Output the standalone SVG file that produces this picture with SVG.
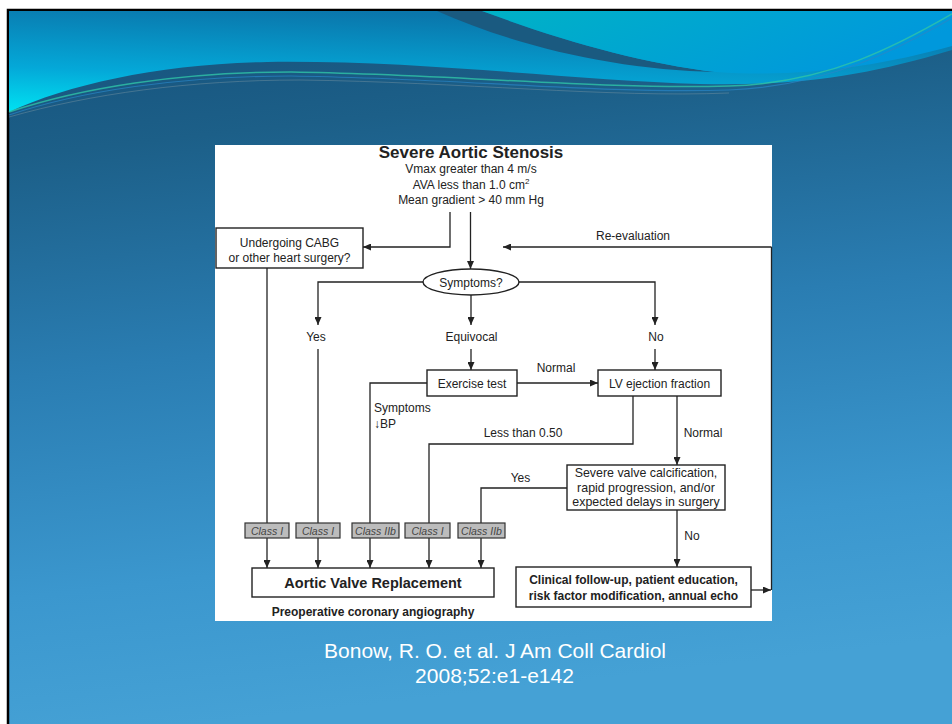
<svg xmlns="http://www.w3.org/2000/svg" width="952" height="724" viewBox="0 0 952 724">
<defs>
<linearGradient id="bg" x1="0" y1="0" x2="0.15" y2="1">
<stop offset="0" stop-color="#15507a"/>
<stop offset="0.2" stop-color="#1c5f88"/>
<stop offset="0.5" stop-color="#2a7db2"/>
<stop offset="0.8" stop-color="#3b97ce"/>
<stop offset="1" stop-color="#45a1d5"/>
</linearGradient>
<linearGradient id="tl" x1="0.35" y1="0" x2="0" y2="1">
<stop offset="0" stop-color="#0a76ab"/>
<stop offset="0.6" stop-color="#04a8d8"/>
<stop offset="1" stop-color="#00e2f2"/>
</linearGradient>
<linearGradient id="tr" x1="0" y1="0" x2="1" y2="0.3">
<stop offset="0" stop-color="#00b2c6"/>
<stop offset="1" stop-color="#0098dc"/>
</linearGradient>
<marker id="ah" markerUnits="userSpaceOnUse" markerWidth="8" markerHeight="7" refX="8" refY="3.5" orient="auto">
<path d="M0,0 L8,3.5 L0,7 Z" fill="#222"/>
</marker>
<style>
.ln{stroke:#222;stroke-width:1.3;fill:none}
.ar{marker-end:url(#ah)}
.bx{fill:#fff;stroke:#222;stroke-width:1.4}
text{font-family:"Liberation Sans",Arial,Helvetica,sans-serif}
.t{font-size:12px;fill:#222;text-anchor:middle}
.b{font-weight:bold}
.cls rect{fill:#bcbcbc;stroke:#333;stroke-width:1.2}
.cls text{font-size:10.5px;font-style:italic;fill:#444;text-anchor:middle}
.ft{font-size:21px;fill:#fff;text-anchor:middle}
</style>
</defs>

<!-- slide background -->
<rect x="0" y="0" width="952" height="724" fill="#fff"/>
<rect x="8" y="10" width="950" height="720" fill="url(#bg)" stroke="#000" stroke-width="2.5"/>
<g id="banner">
<path d="M9,11 H952 V50 C 860,78 790,86 700,84 C 570,80 420,60 267,62 C 160,64 70,84 9,112 Z" fill="url(#tl)"/>
<path d="M437,11 L482,11 C 560,40 640,63 716,72 C 620,70 520,48 437,11 Z" fill="#1a5a80"/>
<path d="M482,11 C 560,40 640,63 716,72 C 800,78 880,66 952,46 V11 Z" fill="url(#tr)"/>
<path d="M9,112 C 80,88 180,72 291,72 C 450,74 600,90 729,86 C 830,83 900,44 952,14" fill="none" stroke="#30c4a8" stroke-width="1.5" opacity="0.8"/>
<path d="M9,115 C 80,91 180,76 291,76 C 450,78 600,94 729,90 C 830,86 900,48 952,18" fill="none" stroke="#2a86c8" stroke-width="1.2" opacity="0.7"/>
<path d="M9,117 C 90,94 190,80 300,80 C 460,82 610,98 729,93" fill="none" stroke="#7090a0" stroke-width="1" opacity="0.5"/>
</g>

<!-- figure area -->
<rect x="215" y="145" width="557" height="476" fill="#fff"/>

<g id="connectors">
<path class="ln" d="M771.5,247 V590"/>
<path class="ln ar" d="M771.5,247 H503"/>
<path class="ln ar" d="M450,212 V247 H363"/>
<path class="ln ar" d="M470.5,212 V269"/>
<path class="ln ar" d="M423,282 H318 V325"/>
<path class="ln ar" d="M471,295 V325"/>
<path class="ln ar" d="M519,282 H655 V325"/>
<path class="ln ar" d="M267,268 V568"/>
<path class="ln ar" d="M318,349 V568"/>
<path class="ln ar" d="M471,349 V370"/>
<path class="ln ar" d="M655,349 V370"/>
<path class="ln ar" d="M517,383 H598"/>
<path class="ln ar" d="M427,383 H370 V568"/>
<path class="ln ar" d="M633,396 V444 H429 V568"/>
<path class="ln ar" d="M677,396 V465"/>
<path class="ln ar" d="M567,488 H481 V568"/>
<path class="ln ar" d="M677,510 V567"/>
<path class="ln ar" d="M751,590 H771"/>
</g>

<g id="title">
<text class="t b" x="471" y="158" style="font-size:17px">Severe Aortic Stenosis</text>
<text class="t" x="471" y="173">Vmax greater than 4 m/s</text>
<text class="t" x="471" y="189">AVA less than 1.0 cm<tspan dy="-5" font-size="8">2</tspan></text>
<text class="t" x="471" y="204">Mean gradient &gt; 40 mm Hg</text>
</g>

<g id="cabg">
<rect class="bx" x="216" y="228" width="147" height="40"/>
<text class="t" x="289.5" y="247">Undergoing CABG</text>
<text class="t" x="289.5" y="262">or other heart surgery?</text>
</g>

<g id="reeval"><text class="t" x="633" y="240">Re-evaluation</text></g>

<g id="symptoms">
<ellipse cx="471" cy="282" rx="48" ry="13" fill="#fff" stroke="#222" stroke-width="1.4"/>
<text class="t" x="471" y="286.5">Symptoms?</text>
</g>

<g id="labels">
<text class="t" x="316" y="341">Yes</text>
<text class="t" x="471.5" y="341">Equivocal</text>
<text class="t" x="656" y="341">No</text>
<text class="t" x="556" y="372">Normal</text>
<text class="t" x="374" y="412" style="text-anchor:start">Symptoms</text>
<text class="t" x="374" y="428" style="text-anchor:start">↓BP</text>
<text class="t" x="523" y="437">Less than 0.50</text>
<text class="t" x="703" y="437">Normal</text>
<text class="t" x="520.5" y="482">Yes</text>
<text class="t" x="692" y="540">No</text>
</g>

<g id="exercise">
<rect class="bx" x="427" y="370" width="90" height="26"/>
<text class="t" x="472" y="387.5">Exercise test</text>
</g>

<g id="lvef">
<rect class="bx" x="598" y="370" width="123" height="26"/>
<text class="t" x="659.5" y="387.5">LV ejection fraction</text>
</g>

<g id="severe">
<rect class="bx" x="567" y="465" width="158" height="45"/>
<text class="t" x="646" y="477" style="font-size:12.4px">Severe valve calcification,</text>
<text class="t" x="646" y="492" style="font-size:12.4px">rapid progression, and/or</text>
<text class="t" x="646" y="506" style="font-size:12.4px">expected delays in surgery</text>
</g>

<g id="followup">
<rect class="bx" x="516" y="567" width="235" height="40"/>
<text class="t b" x="633.5" y="584">Clinical follow-up, patient education,</text>
<text class="t b" x="633.5" y="600">risk factor modification, annual echo</text>
</g>

<g id="avr">
<rect class="bx" x="252" y="568" width="242" height="29"/>
<text class="t b" x="373" y="588" style="font-size:14.5px">Aortic Valve Replacement</text>
<text class="t b" x="373" y="616">Preoperative coronary angiography</text>
</g>

<g id="class1a" class="cls"><rect x="245" y="523" width="44" height="15"/><text x="267" y="534.5">Class I</text></g>
<g id="class1b" class="cls"><rect x="296" y="523" width="44" height="15"/><text x="318" y="534.5">Class I</text></g>
<g id="class2a" class="cls"><rect x="352" y="523" width="47" height="15"/><text x="375.5" y="534.5">Class IIb</text></g>
<g id="class1c" class="cls"><rect x="405" y="523" width="45" height="15"/><text x="427.5" y="534.5">Class I</text></g>
<g id="class2b" class="cls"><rect x="458" y="523" width="47" height="15"/><text x="481.5" y="534.5">Class IIb</text></g>

<g id="citation">
<text class="ft" x="495" y="658">Bonow, R. O. et al. J Am Coll Cardiol</text>
<text class="ft" x="494.5" y="683">2008;52:e1-e142</text>
</g>
</svg>
